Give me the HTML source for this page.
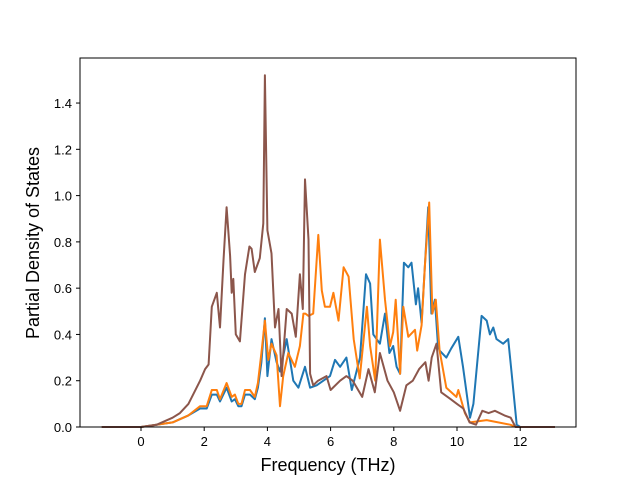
<!DOCTYPE html>
<html><head><meta charset="utf-8"><style>
body{margin:0;background:#fff;}
svg text{font-family:"Liberation Sans","DejaVu Sans",sans-serif;}
</style></head><body>
<svg width="640" height="480" xmlns="http://www.w3.org/2000/svg">
<rect width="640" height="480" fill="#fff"/>
<g id="plot"></g>
<rect x="80" y="58" width="496" height="369" fill="none" stroke="#000" stroke-width="1"/>
<g id="xt"></g>
<g id="yt"></g>
<text x="328" y="471" font-size="18" text-anchor="middle">Frequency (THz)</text>
<text x="0" y="0" font-size="18" text-anchor="middle" transform="translate(39,243) rotate(-90)">Partial Density of States</text>
</svg>
<script>
const xTicks=[0,2,4,6,8,10,12];
const yTicks=[0.0,0.2,0.4,0.6,0.8,1.0,1.2,1.4];
const blueF=[-1.24,0,1,1.5,1.87,2.08,2.24,2.4,2.5,2.71,2.87,2.97,3.08,3.18,3.29,3.45,3.6,3.7,3.81,3.92,4.0,4.13,4.29,4.4,4.61,4.82,4.98,5.19,5.35,5.56,5.77,5.98,6.14,6.3,6.5,6.67,6.93,7.12,7.25,7.35,7.56,7.72,7.86,7.98,8.09,8.2,8.32,8.46,8.56,8.7,8.77,8.88,8.98,9.09,9.19,9.3,9.4,9.45,9.66,9.82,10.04,10.19,10.41,10.52,10.78,10.94,11.04,11.15,11.25,11.46,11.62,11.73,11.89,12,13.1];
const blueV=[0,0,0.02,0.05,0.08,0.08,0.14,0.14,0.11,0.17,0.11,0.12,0.09,0.09,0.14,0.14,0.12,0.17,0.28,0.47,0.22,0.38,0.28,0.24,0.38,0.2,0.17,0.26,0.17,0.18,0.2,0.22,0.29,0.26,0.30,0.16,0.30,0.66,0.62,0.40,0.36,0.49,0.32,0.35,0.26,0.23,0.71,0.69,0.71,0.53,0.6,0.45,0.69,0.95,0.49,0.55,0.35,0.33,0.30,0.34,0.39,0.26,0.04,0.1,0.48,0.46,0.40,0.43,0.38,0.36,0.38,0.23,0.01,0,0];
const orangeF=[-1.24,0,1,1.5,1.87,2.08,2.24,2.4,2.5,2.71,2.87,2.97,3.08,3.18,3.29,3.45,3.6,3.7,3.81,3.92,4.03,4.13,4.29,4.4,4.5,4.66,4.87,5.03,5.14,5.2,5.3,5.45,5.61,5.72,5.82,5.98,6.09,6.25,6.41,6.57,6.73,6.92,7.15,7.25,7.41,7.56,7.72,7.88,7.98,8.06,8.2,8.3,8.46,8.67,8.74,8.88,8.98,9.12,9.22,9.33,9.45,9.66,9.98,10.04,10.25,10.41,10.94,11.68,11.89,13.1];
const orangeV=[0,0,0.02,0.05,0.09,0.09,0.16,0.16,0.12,0.19,0.13,0.14,0.1,0.1,0.16,0.16,0.13,0.19,0.32,0.46,0.29,0.36,0.31,0.09,0.22,0.32,0.26,0.35,0.49,0.49,0.48,0.49,0.83,0.59,0.52,0.52,0.58,0.46,0.69,0.65,0.38,0.21,0.52,0.35,0.2,0.81,0.55,0.35,0.41,0.55,0.23,0.52,0.39,0.42,0.33,0.44,0.69,0.97,0.49,0.55,0.33,0.17,0.13,0.16,0.06,0.02,0.03,0.01,0,0];
const brownF=[-1.24,0,0.5,1,1.23,1.5,1.87,2.03,2.14,2.24,2.4,2.5,2.61,2.71,2.82,2.87,2.92,3.0,3.13,3.29,3.43,3.5,3.6,3.76,3.87,3.92,4.0,4.13,4.24,4.35,4.45,4.61,4.77,4.9,5.03,5.12,5.19,5.3,5.35,5.45,5.6,5.87,6.0,6.3,6.5,6.7,7.0,7.2,7.4,7.56,7.8,8.0,8.2,8.4,8.6,8.8,9.0,9.1,9.2,9.35,9.5,9.8,10.0,10.2,10.4,10.6,10.8,11.0,11.2,11.5,11.7,11.85,13.1];
const brownV=[0,0,0.01,0.04,0.06,0.1,0.2,0.25,0.27,0.52,0.58,0.43,0.72,0.95,0.74,0.58,0.64,0.40,0.37,0.66,0.78,0.77,0.67,0.73,0.88,1.52,0.85,0.75,0.43,0.51,0.22,0.51,0.49,0.39,0.66,0.51,1.07,0.81,0.23,0.18,0.2,0.22,0.16,0.2,0.22,0.2,0.13,0.25,0.15,0.32,0.2,0.15,0.07,0.18,0.2,0.25,0.28,0.2,0.3,0.36,0.15,0.12,0.1,0.08,0.02,0.01,0.07,0.06,0.07,0.05,0.04,0,0];
const X=f=>141+f*31.6, Y=v=>427-v*231.4;
const NS="http://www.w3.org/2000/svg";
const plot=document.getElementById('plot');
function line(F,V,color,name){
  const p=document.createElementNS(NS,'polyline');
  p.setAttribute('points',F.map((f,i)=>X(f).toFixed(1)+','+Y(V[i]).toFixed(1)).join(' '));
  p.setAttribute('fill','none');p.setAttribute('stroke',color);p.setAttribute('stroke-width','2');p.setAttribute('stroke-linejoin','round');
  
  
  plot.appendChild(p);
}
line(blueF,blueV,'#1f77b4','series-blue');
line(orangeF,orangeV,'#ff7f0e','series-orange');
line(brownF,brownV,'#8c564b','series-brown');
const xt=document.getElementById('xt');
xTicks.forEach(t=>{
  const l=document.createElementNS(NS,'line');
  l.setAttribute('x1',X(t));l.setAttribute('x2',X(t));l.setAttribute('y1',427);l.setAttribute('y2',431);l.setAttribute('stroke','#000');
  
  
  xt.appendChild(l);
  const s=document.createElementNS(NS,'text');
  s.setAttribute('x',X(t));s.setAttribute('y',446);s.setAttribute('font-size','13');s.setAttribute('text-anchor','middle');
  s.textContent=t;
  
  
  xt.appendChild(s);
});
const yt=document.getElementById('yt');
yTicks.forEach(t=>{
  const l=document.createElementNS(NS,'line');
  l.setAttribute('x1',76);l.setAttribute('x2',80);l.setAttribute('y1',Y(t));l.setAttribute('y2',Y(t));l.setAttribute('stroke','#000');
  
  
  yt.appendChild(l);
  const s=document.createElementNS(NS,'text');
  s.setAttribute('x',72);s.setAttribute('y',Y(t)+5);s.setAttribute('font-size','13');s.setAttribute('text-anchor','end');
  s.textContent=t.toFixed(1);
  
  
  yt.appendChild(s);
});
</script>
</body></html>
